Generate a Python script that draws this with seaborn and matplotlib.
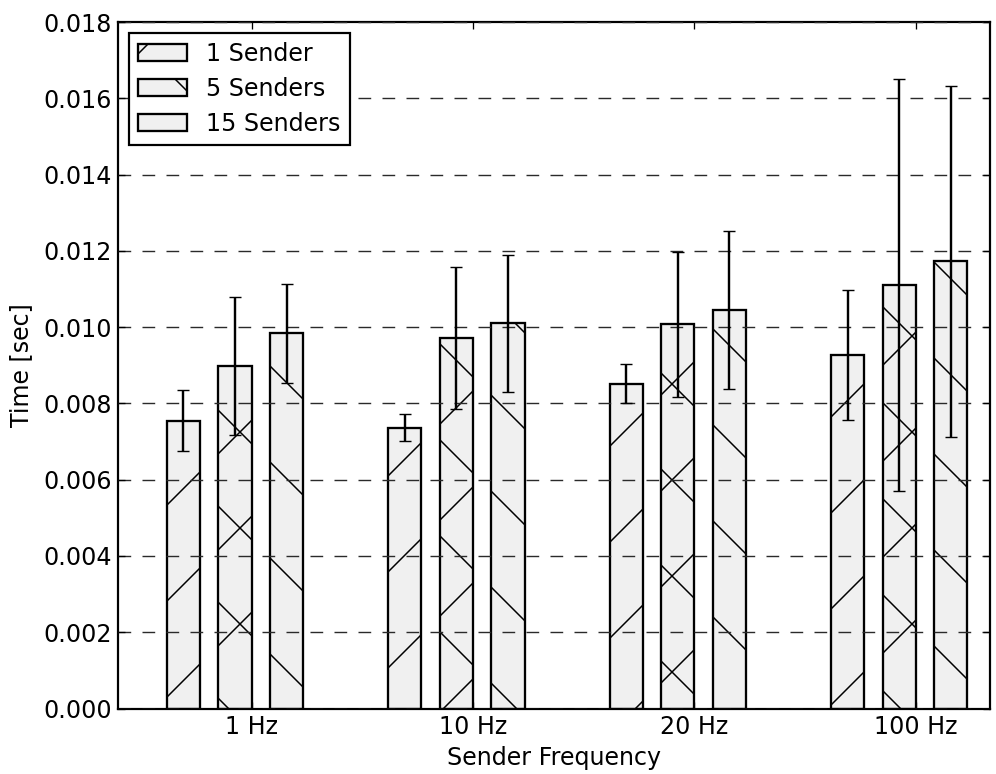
import numpy as np
import pandas as pd
import matplotlib
matplotlib.use("Agg")
import matplotlib.pyplot as plt
import seaborn as sns

# ---------------- data ----------------
frequencies = ["1 Hz", "10 Hz", "20 Hz", "100 Hz"]
senders = ["1 Sender", "5 Senders", "15 Senders"]
mean_1 = [0.00754, 0.00736, 0.00852, 0.00926]
mean_5 = [0.00898, 0.00972, 0.01008, 0.01111]
mean_15 = [0.00984, 0.01010, 0.01045, 0.01173]
err_1 = [0.00080, 0.00035, 0.00050, 0.00170]
err_5 = [0.00180, 0.00186, 0.00190, 0.00540]
err_15 = [0.00130, 0.00180, 0.00207, 0.00460]
y_ticks = [0.000, 0.002, 0.004, 0.006, 0.008, 0.010, 0.012, 0.014, 0.016, 0.018]
hatches = ["/", "x", "\\"]

means = [mean_1, mean_5, mean_15]
errs = [err_1, err_5, err_15]

# ---------------- style ----------------
W, H = 996, 774
DPI = 288


def pt(px):
    return px * 72.0 / DPI


FS = pt(23.8)

sns.set_theme(style="white", rc={
    "hatch.linewidth": pt(1.5),
    "lines.scale_dashes": False,
    "axes.linewidth": pt(2),
    "text.color": "black",
    "axes.labelcolor": "black",
    "xtick.color": "black",
    "ytick.color": "black",
})
plt.rcParams["font.family"] = ["DejaVu Sans"]
plt.rcParams["font.size"] = FS
plt.rcParams["hatch.linewidth"] = pt(1.5)

df = pd.DataFrame({
    "freq": np.repeat(frequencies, len(senders)),
    "sender": senders * len(frequencies),
    "time": [means[k][i] for i in range(len(frequencies)) for k in range(len(senders))],
})

fig = plt.figure(figsize=(W / DPI, H / DPI), dpi=DPI)
ax = fig.add_axes([118 / W, 1 - 708.5 / H, (990 - 118) / W, (708.5 - 22) / H])

sns.barplot(
    data=df, x="freq", y="time", hue="sender",
    order=frequencies, hue_order=senders,
    palette={s: "#f0f0f0" for s in senders}, saturation=1,
    width=0.7, gap=0.357, edgecolor="black", linewidth=pt(2.3),
    errorbar=None, legend=False, ax=ax,
)

bar_conts = list(ax.containers)
for k, cont in enumerate(bar_conts):
    xs = []
    for bar in cont.patches:
        bar.set_hatch(hatches[k])
        bar.set_edgecolor("black")
        xs.append(bar.get_x() + bar.get_width() / 2)
    ax.errorbar(xs, means[k], yerr=errs[k], fmt="none", ecolor="black",
                elinewidth=pt(2.4), capsize=pt(6), capthick=pt(1.4), zorder=5)

# grid (drawn over the bars, like the reference)
ax.set_axisbelow(False)
ax.yaxis.grid(True, color="#2a2a2a", linewidth=pt(1.4),
              linestyle=(0, (pt(12.7), pt(11.3))), zorder=3)
ax.xaxis.grid(False)

ax.set_xlim(-0.528, 3.410)
ax.set_ylim(0, 0.018)
ax.set_xticks([i + 0.075 for i in range(len(frequencies))])
ax.set_xticklabels(frequencies)
ax.set_yticks(y_ticks)
ax.set_yticklabels([f"{v:.3f}" for v in y_ticks])

ax.tick_params(direction="in", top=True, right=True, bottom=True, left=True,
               length=pt(7), width=pt(1.3), pad=pt(6), colors="black",
               labelsize=FS)

for sp in ax.spines.values():
    sp.set_visible(True)
    sp.set_color("black")
    sp.set_linewidth(pt(2.2))

ax.set_xlabel("Sender Frequency", fontsize=FS, labelpad=pt(8), color="black")
ax.set_ylabel("Time [sec]", fontsize=FS, labelpad=pt(10), color="black")

handles = [cont.patches[0] for cont in bar_conts]
leg = ax.legend(handles, senders, loc="upper left", frameon=True,
                fancybox=False, framealpha=1, edgecolor="black",
                borderpad=0.4, borderaxespad=0.45, handlelength=2.05,
                handleheight=0.72, handletextpad=0.8, labelspacing=0.45,
                fontsize=FS)
leg.get_frame().set_linewidth(pt(2.2))

fig.savefig("out.png", dpi=DPI)
